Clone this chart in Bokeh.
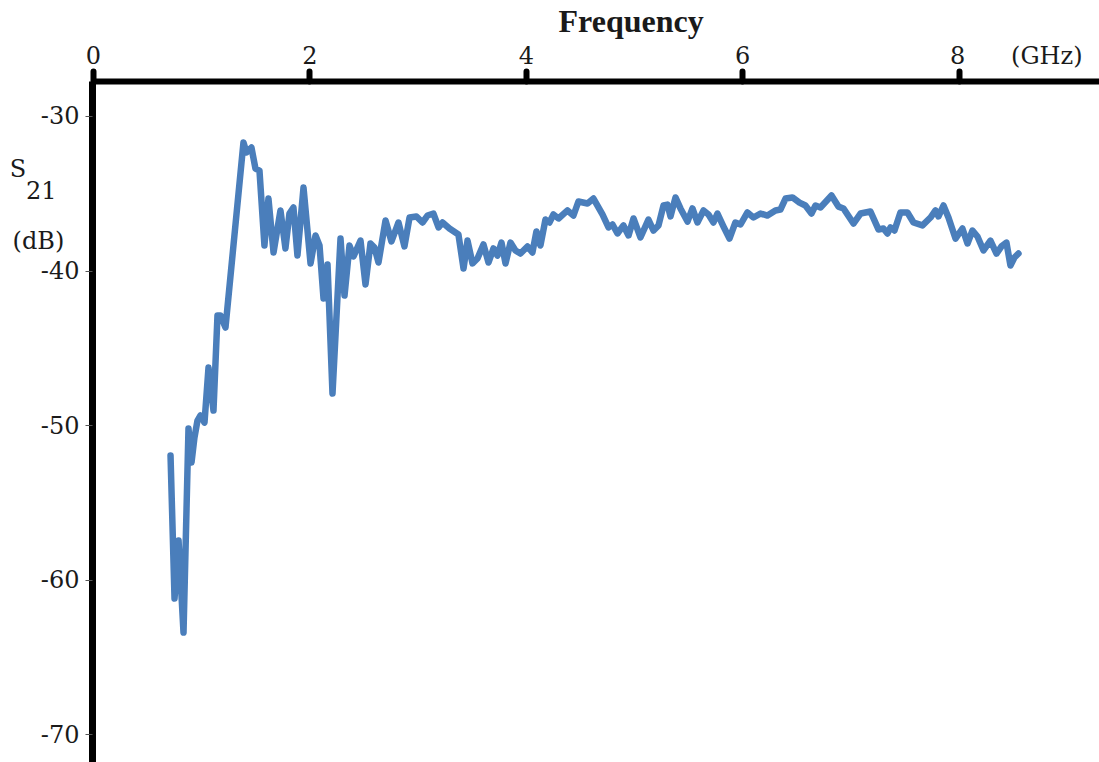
from bokeh.plotting import figure
from bokeh.models import Range1d, FixedTicker
from bokeh.embed import file_html
from bokeh.resources import INLINE

# Measured transmission S21 versus frequency
freq_ghz = [
    0.712, 0.749, 0.786, 0.832, 0.878, 0.906, 0.933, 0.961, 0.989, 1.026,
    1.063, 1.109, 1.146, 1.174, 1.220, 1.386, 1.414, 1.460, 1.497, 1.534,
    1.580, 1.617, 1.664, 1.728, 1.774, 1.811, 1.848, 1.885, 1.941, 2.006,
    2.052, 2.089, 2.126, 2.163, 2.209, 2.283, 2.320, 2.366, 2.403, 2.468,
    2.514, 2.560, 2.597, 2.634, 2.699, 2.754, 2.819, 2.874, 2.921, 2.985,
    3.041, 3.087, 3.142, 3.189, 3.226, 3.290, 3.373, 3.420, 3.457, 3.503,
    3.549, 3.604, 3.651, 3.697, 3.734, 3.771, 3.808, 3.854, 3.900, 3.946,
    4.011, 4.057, 4.094, 4.131, 4.177, 4.214, 4.251, 4.298, 4.381, 4.436,
    4.482, 4.566, 4.621, 4.704, 4.760, 4.797, 4.843, 4.898, 4.945, 4.991,
    5.055, 5.129, 5.176, 5.222, 5.268, 5.305, 5.333, 5.379, 5.425, 5.490,
    5.536, 5.582, 5.638, 5.684, 5.730, 5.767, 5.823, 5.878, 5.933, 5.980,
    6.044, 6.100, 6.165, 6.229, 6.303, 6.349, 6.396, 6.460, 6.525, 6.580,
    6.636, 6.673, 6.719, 6.821, 6.885, 6.932, 7.024, 7.089, 7.181, 7.255,
    7.301, 7.338, 7.366, 7.403, 7.458, 7.523, 7.579, 7.662, 7.736, 7.782,
    7.810, 7.856, 7.902, 7.967, 8.031, 8.078, 8.124, 8.170, 8.226, 8.290,
    8.346, 8.392, 8.438, 8.475, 8.512, 8.549,
]
s21_db = [
    -51.94, -61.20, -57.44, -63.40, -50.19, -52.39, -50.78, -49.68, -49.35, -49.81,
    -46.25, -49.03, -42.88, -42.88, -43.66, -31.68, -32.33, -32.01, -33.37, -33.50,
    -38.35, -35.31, -38.80, -36.08, -38.54, -36.28, -35.89, -39.00, -34.60, -39.51,
    -37.70, -38.35, -41.78, -39.58, -47.93, -37.90, -41.59, -38.35, -39.06, -38.03,
    -40.87, -38.22, -38.48, -39.45, -36.73, -38.09, -36.86, -38.41, -36.54, -36.47,
    -36.86, -36.41, -36.28, -37.18, -36.86, -37.25, -37.64, -39.84, -38.03, -39.51,
    -39.19, -38.28, -39.45, -38.54, -39.00, -38.16, -39.51, -38.16, -38.67, -38.87,
    -38.41, -38.80, -37.44, -38.35, -36.67, -36.86, -36.34, -36.60, -36.08, -36.41,
    -35.50, -35.63, -35.31, -36.34, -37.18, -36.99, -37.57, -37.05, -37.70, -36.60,
    -37.83, -36.67, -37.38, -37.05, -35.76, -35.70, -36.47, -35.24, -35.95, -36.80,
    -35.95, -36.86, -36.08, -36.34, -36.86, -36.28, -37.12, -37.90, -36.86, -36.99,
    -36.21, -36.54, -36.28, -36.41, -36.08, -36.02, -35.31, -35.24, -35.57, -35.76,
    -36.28, -35.76, -35.89, -35.11, -35.83, -35.95, -36.93, -36.28, -36.15, -37.31,
    -37.25, -37.57, -37.18, -37.38, -36.21, -36.21, -36.86, -37.05, -36.54, -36.08,
    -36.47, -35.76, -36.54, -37.90, -37.25, -38.22, -37.38, -37.77, -38.67, -38.03,
    -38.87, -38.41, -38.16, -39.64, -39.13, -38.87,
]

x_ticks = [0, 2, 4, 6, 8]
y_ticks = [-30, -40, -50, -60, -70]

# unit captions ride on the axes' labels
NBSP = "\u00a0"
x_labels = {t: str(t) for t in x_ticks}
x_labels[8] = NBSP * 15 + "8" + NBSP * 6 + "(GHz)"   # keeps "8" centred on its tick
y_captions = {-33.43: "S" + NBSP * 7, -34.85: "21" + NBSP * 3, -38.03: "(dB)" + NBSP * 2}

LINE_BLUE = "#4a7ebb"
TICK_FONT = "DejaVu Serif"
TEXT_COLOR = "#1a1a1a"

p = figure(
    width=1099, height=762,
    x_range=Range1d(-0.0092, 9.298),
    y_range=Range1d(-71.81, -27.735),
    x_axis_location="above",
    output_backend="svg",
    toolbar_location=None,
    min_border_left=92, min_border_top=81,
    min_border_right=0, min_border_bottom=0,
)
p.outline_line_color = None
p.background_fill_color = "white"
p.border_fill_color = "white"
p.xgrid.visible = False
p.ygrid.visible = False

# axis title above the frequency axis
p.title.text = "Frequency"
p.title.align = "left"
p.title.offset = 466
p.title.standoff = 0
p.title.text_font = "Liberation Serif"
p.title.text_font_size = "32px"
p.title.text_font_style = "bold"
p.title.text_color = TEXT_COLOR

# top frequency axis: thick rule with short stub ticks
xa = p.xaxis[0]
xa.ticker = FixedTicker(ticks=x_ticks)
xa.major_label_overrides = x_labels
xa.axis_line_width = 6
xa.axis_line_color = "black"
xa.major_tick_line_width = 6
xa.major_tick_line_color = "black"
xa.major_tick_line_cap = "round"
xa.major_tick_out = 10
xa.major_tick_in = 0
xa.minor_tick_line_color = None
xa.minor_tick_out = 0
xa.major_label_text_font = TICK_FONT
xa.major_label_text_font_size = "24px"
xa.major_label_text_color = TEXT_COLOR
xa.major_label_standoff = 2

# left S21 axis; values written with a plain hyphen, short marks as minor ticks
# (offset a hair so they are not merged with the labelled positions)
ya = p.yaxis[0]
ya.ticker = FixedTicker(ticks=y_ticks + list(y_captions),
                        minor_ticks=[t + 1e-6 for t in y_ticks])
ya.major_label_overrides = {t: str(t) for t in y_ticks} | y_captions
ya.axis_line_width = 7
ya.axis_line_color = "black"
ya.major_tick_line_color = None
ya.major_tick_out = 0
ya.major_tick_in = 0
ya.minor_tick_line_width = 1
ya.minor_tick_line_color = "#555555"
ya.minor_tick_out = 7
ya.minor_tick_in = 0
ya.major_label_text_font = TICK_FONT
ya.major_label_text_font_size = "24px"
ya.major_label_text_color = TEXT_COLOR
ya.major_label_standoff = 6

p.line(freq_ghz, s21_db, line_color=LINE_BLUE, line_width=6.5,
       line_join="round", line_cap="round")

open("out.html", "w").write(file_html(p, INLINE))
